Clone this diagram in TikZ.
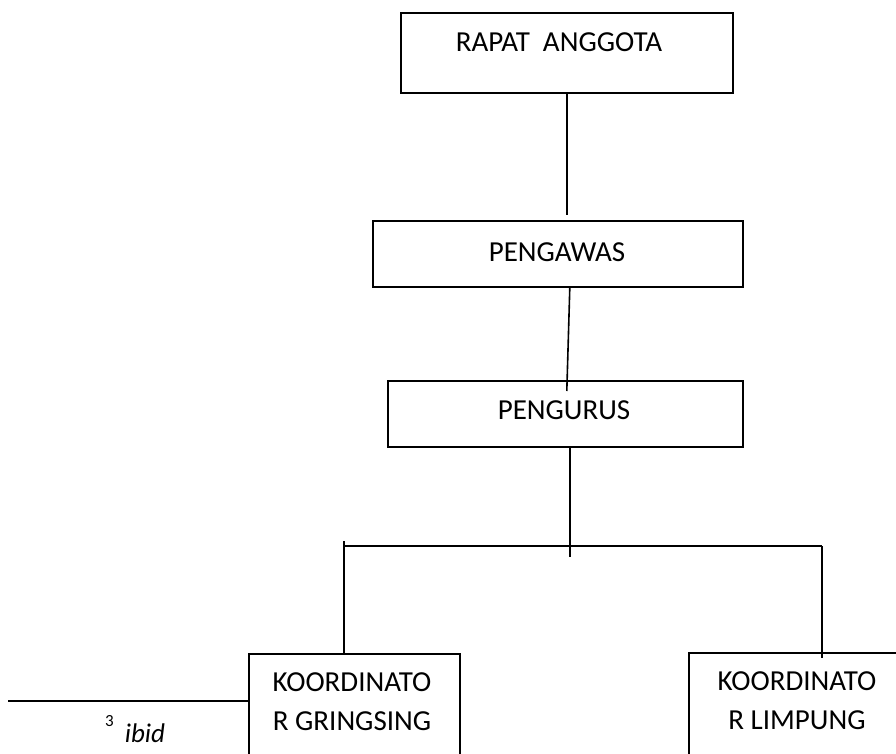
\documentclass[tikz,border=0pt]{standalone}
\usepackage{fontspec}
\setmainfont{Carlito}
\usetikzlibrary{calc}
\begin{document}
\begin{tikzpicture}[x=1pt,y=-1pt,
  box/.style={draw,line width=1.6pt,rectangle,inner sep=0pt,anchor=north west},
  conn/.style={line width=1.6pt},
  lbl/.style={font=\fontsize{29}{39}\selectfont,align=center,inner sep=0pt}]
\clip (0,0) rectangle (896,754);
\fill[white] (0,0) rectangle (896,754);
% boxes
\node[box,minimum width=332pt,minimum height=80pt] (ra) at (400,12) {};
\node[box,minimum width=370pt,minimum height=66pt] (pw) at (372,220) {};
\node[box,minimum width=355pt,minimum height=66pt] (pg) at (387,380) {};
\node[box,minimum width=211pt,minimum height=150pt] (kg) at (248,653) {};
\node[box,minimum width=218pt,minimum height=150pt] (kl) at (688,652) {};
% labels
\node[lbl] (t1) at (559,42) {RAPAT\hspace{0.45em}ANGGOTA};
\node[lbl] (t2) at (557,252) {PENGAWAS};
\node[lbl] (t3) at (564,410) {PENGURUS};
\node[lbl] (t4) at (352,701.5) {KOORDINATO\\R GRINGSING};
\node[lbl] (t5) at (797,701) {KOORDINATO\\R LIMPUNG};
% connectors
\draw[conn] (ra.south) -- ($(ra.south |- pw.north)+(0,-5)$);
\draw[conn] ($(pw.south)+(12,0)$) -- ($(pg.north)+(1.5,11)$);
\coordinate (j) at (570,557);
\draw[conn] (pg.south -| j) -- (j);
\coordinate (hl) at (344,546);
\coordinate (hr) at (822,546);
\draw[conn] (hl) -- (hr);
\draw[conn] ($(hl)+(0,-5)$) -- (hl |- kg.north);
\draw[conn] (hr) -- ($(hr |- kl.north)+(0,6)$);
% footnote
\coordinate (f) at (8,701);
\draw[conn] (f) -- (f -| kg.west);
\node[anchor=base west,inner sep=0pt] (fn) at (105,742)
  {\raisebox{16pt}{\fontsize{17}{17}\selectfont 3}\hspace{11pt}{\fontsize{27}{30}\selectfont\itshape ibid}};
\end{tikzpicture}
\end{document}
